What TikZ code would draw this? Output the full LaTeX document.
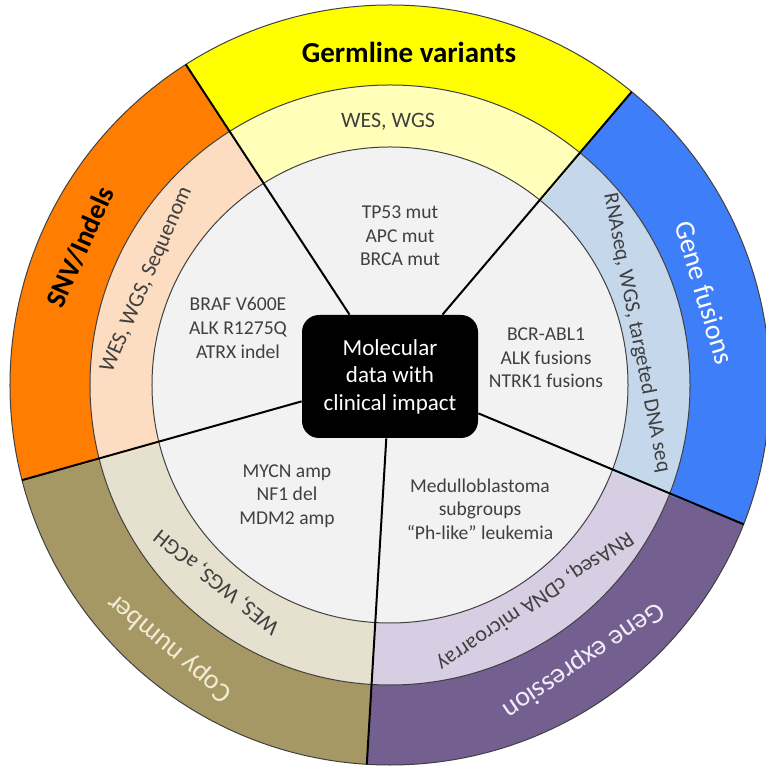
\documentclass[tikz,border=0pt]{standalone}
\usepackage{fontspec}
\setmainfont{Carlito}
\usepackage{xcolor}
\usepackage{tikz}
\usetikzlibrary{arrows.meta}
\usetikzlibrary{positioning}
\usetikzlibrary{calc}
\definecolor{textgrey}{RGB}{64,64,64}
\definecolor{coregrey}{RGB}{242,242,242}
\definecolor{germdark}{RGB}{255,255,0}
\definecolor{germlight}{RGB}{255,255,185}
\definecolor{fusdark}{RGB}{62,126,248}
\definecolor{fuslight}{RGB}{197,216,235}
\definecolor{exprdark}{RGB}{116,95,145}
\definecolor{exprlight}{RGB}{216,206,227}
\definecolor{copydark}{RGB}{166,152,101}
\definecolor{copylight}{RGB}{230,225,207}
\definecolor{snvdark}{RGB}{255,125,0}
\definecolor{snvlight}{RGB}{252,221,194}
\definecolor{copytext}{RGB}{242,236,214}
\definecolor{exprtext}{RGB}{240,236,248}
\tikzset{%
  base/.style = {align=center, text=textgrey, font=\fontsize{9.8}{11.8}\selectfont},
  ring/.style = {align=center, text=textgrey, inner sep=1pt, font=\fontsize{11}{13}\selectfont},
  head/.style = {align=center, inner sep=1pt, font=\fontsize{14}{16}\selectfont},
  core/.style = {rectangle, fill=black, text=white, rounded corners=8.5pt,
    minimum width=88pt, minimum height=61.5pt, align=center,
    font=\fontsize{11.5}{13.8}\selectfont},
  rim/.style = {draw=black!75, line width=0.5pt},
  cut/.style = {draw=black, line width=1pt}
}

\begin{document}
\begin{tikzpicture}[x=0.5pt, y=0.5pt]
  \useasboundingbox (-390,-384) rectangle (375,385);

  % outer and middle rings, sector by sector
  \fill[germdark] (50.5:300) arc[start angle=50.5, end angle=122.5, radius=300] -- (122.5:380) arc[start angle=122.5, end angle=50.5, radius=380] -- cycle;
  \fill[germlight] (50.5:238) arc[start angle=50.5, end angle=122.5, radius=238] -- (122.5:300) arc[start angle=122.5, end angle=50.5, radius=300] -- cycle;
  \fill[snvdark] (122.5:300) arc[start angle=122.5, end angle=194.5, radius=300] -- (194.5:380) arc[start angle=194.5, end angle=122.5, radius=380] -- cycle;
  \fill[snvlight] (122.5:238) arc[start angle=122.5, end angle=194.5, radius=238] -- (194.5:300) arc[start angle=194.5, end angle=122.5, radius=300] -- cycle;
  \fill[copydark] (194.5:300) arc[start angle=194.5, end angle=266.5, radius=300] -- (266.5:380) arc[start angle=266.5, end angle=194.5, radius=380] -- cycle;
  \fill[copylight] (194.5:238) arc[start angle=194.5, end angle=266.5, radius=238] -- (266.5:300) arc[start angle=266.5, end angle=194.5, radius=300] -- cycle;
  \fill[exprdark] (266.5:300) arc[start angle=266.5, end angle=338.5, radius=300] -- (338.5:380) arc[start angle=338.5, end angle=266.5, radius=380] -- cycle;
  \fill[exprlight] (266.5:238) arc[start angle=266.5, end angle=338.5, radius=238] -- (338.5:300) arc[start angle=338.5, end angle=266.5, radius=300] -- cycle;
  \fill[fusdark] (-21.5:300) arc[start angle=-21.5, end angle=50.5, radius=300] -- (50.5:380) arc[start angle=50.5, end angle=-21.5, radius=380] -- cycle;
  \fill[fuslight] (-21.5:238) arc[start angle=-21.5, end angle=50.5, radius=238] -- (50.5:300) arc[start angle=50.5, end angle=-21.5, radius=300] -- cycle;
  \fill[coregrey] (0,0) circle[radius=238];

  \draw[rim] (0,0) circle[radius=380];
  \draw[rim] (0,0) circle[radius=300];
  \draw[rim] (0,0) circle[radius=238];

  % ends of the dividers on the rim
  \coordinate (cut-germ) at (50.5:380);
  \coordinate (cut-snv) at (122.5:380);
  \coordinate (cut-copy) at (194.5:380);
  \coordinate (cut-expr) at (266.5:380);
  \coordinate (cut-fus) at (338.5:380);

  % Specification of nodes (position, etc.)
  \node (core) [core] at (0,8.5) {Molecular\\data with\\clinical impact};

  \node (germ-head) [head, font=\fontsize{14.5}{16}\bfseries] at (19,333) {Germline variants};
  \node (germ-tech) [ring] at (-2,263) {WES, WGS};
  \node (germ-ex) [base] at (10,149) {TP53 mut\\APC mut\\BRCA mut};

  \node (snv-head) [head, font=\fontsize{14}{16}\bfseries, rotate=66] at (156:339) {SNV/Indels};
  \node (snv-tech) [ring, rotate=66.6] at (156.6:265) {WES, WGS, Sequenom};
  \node (snv-ex) [base] at (-152,57) {BRAF V600E\\ALK R1275Q\\ATRX indel};

  \node (copy-head) [head, text=copytext, rotate=140] at (230:343) {Copy number};
  \node (copy-tech) [ring, rotate=141] at (228.7:262) {WES, WGS, aCGH};
  \node (copy-ex) [base] at (-103,-111) {MYCN amp\\NF1 del\\MDM2 amp};

  \node (expr-head) [head, text=exprtext, rotate=-146] at (-54.9:336) {Gene expression};
  \node (expr-tech) [ring, rotate=-146] at (-56.1:260) {RNAseq, cDNA microarray};
  \node (expr-ex) [base] at (90,-124) {Medulloblastoma\\subgroups\\``Ph-like'' leukemia};

  \node (fus-head) [head, text=white, rotate=-73.6] at (16.4:328) {Gene fusions};
  \node (fus-tech) [ring, font=\fontsize{10.7}{13}\selectfont, rotate=-79] at (11.9:252) {RNAseq, WGS, targeted DNA seq};
  \node (fus-ex) [base] at (156,27) {BCR-ABL1\\ALK fusions\\NTRK1 fusions};

  \draw[cut] (core) -- (cut-germ);
  \draw[cut] (core) -- (cut-snv);
  \draw[cut] (core) -- (cut-copy);
  \draw[cut] (core) -- (cut-expr);
  \draw[cut] (core) -- (cut-fus);
\end{tikzpicture}
\end{document}
